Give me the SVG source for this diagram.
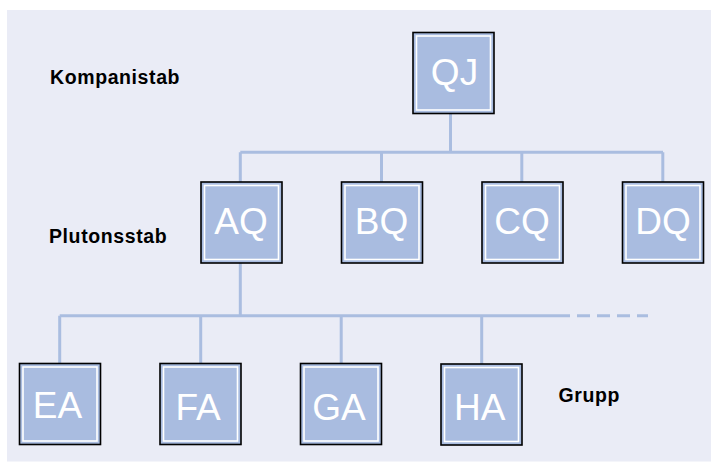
<svg xmlns="http://www.w3.org/2000/svg" width="711" height="463" viewBox="0 0 711 463">
<style>
.bg{fill:#ffffff}
.panel{fill:#eaecf6}
.box{fill:#a9bce0;stroke:#000;stroke-width:1.6}
.inner{fill:none;stroke:#fff;stroke-width:1.6}
.nt{font-family:"Liberation Sans",Arial,sans-serif;font-size:37px;fill:#fff;text-anchor:middle}
.lbl{font-family:"Liberation Sans",Arial,sans-serif;font-size:19.5px;font-weight:bold;fill:#000;letter-spacing:0.6px}
.ln{stroke:#aabde0;stroke-width:3;fill:none}
.dash{stroke:#aabde0;stroke-width:3;fill:none;stroke-dasharray:13 7}
</style>
<rect class="bg" x="0" y="0" width="711" height="463"/>
<rect class="panel" x="7" y="10" width="704" height="451.5"/>
<g id="connectors">
<path class="ln" d="M450.5 113 V152.3 M240.3 152.3 H663 M240.3 152.3 V182 M381.5 152.3 V182 M521.8 152.3 V182 M662.8 152.3 V182"/>
<path class="ln" d="M240.3 263 V315.8 M59.7 315.8 H557 M59.7 315.8 V363.5 M200.7 315.8 V363.5 M341.2 315.8 V363.5 M481.7 315.8 V364"/>
<path class="dash" d="M557 315.8 H648"/>
</g>
<g id="label-kompanistab"><text class="lbl" x="50" y="83.5">Kompanistab</text></g>
<g id="label-plutonsstab"><text class="lbl" x="49" y="242.5">Plutonsstab</text></g>
<g id="label-grupp"><text class="lbl" x="558.5" y="401.7">Grupp</text></g>
<g id="node-QJ"><rect class="box" x="413" y="32.5" width="81" height="81"/><rect class="inner" x="416.5" y="36" width="74" height="74"/><text class="nt" x="454.5" y="85">QJ</text></g>
<g id="node-AQ"><rect class="box" x="201" y="182" width="81" height="81"/><rect class="inner" x="204.5" y="185.5" width="74" height="74"/><text class="nt" x="241" y="233.5">AQ</text></g>
<g id="node-BQ"><rect class="box" x="341.5" y="182" width="81" height="81"/><rect class="inner" x="345" y="185.5" width="74" height="74"/><text class="nt" x="381.5" y="233.5">BQ</text></g>
<g id="node-CQ"><rect class="box" x="482" y="182" width="81" height="81"/><rect class="inner" x="485.5" y="185.5" width="74" height="74"/><text class="nt" x="522" y="233.5">CQ</text></g>
<g id="node-DQ"><rect class="box" x="622.5" y="182" width="81" height="81"/><rect class="inner" x="626" y="185.5" width="74" height="74"/><text class="nt" x="663" y="233.5">DQ</text></g>
<g id="node-EA"><rect class="box" x="19.5" y="363.5" width="81" height="81"/><rect class="inner" x="23" y="367" width="74" height="74"/><text class="nt" x="57.5" y="417.5">EA</text></g>
<g id="node-FA"><rect class="box" x="160" y="363.5" width="81" height="81"/><rect class="inner" x="163.5" y="367" width="74" height="74"/><text class="nt" x="198" y="420">FA</text></g>
<g id="node-GA"><rect class="box" x="300.5" y="363.5" width="81" height="81"/><rect class="inner" x="304" y="367" width="74" height="74"/><text class="nt" x="339" y="420">GA</text></g>
<g id="node-HA"><rect class="box" x="441" y="364" width="81" height="81"/><rect class="inner" x="444.5" y="367.5" width="74" height="74"/><text class="nt" x="479.7" y="420">HA</text></g>
</svg>
